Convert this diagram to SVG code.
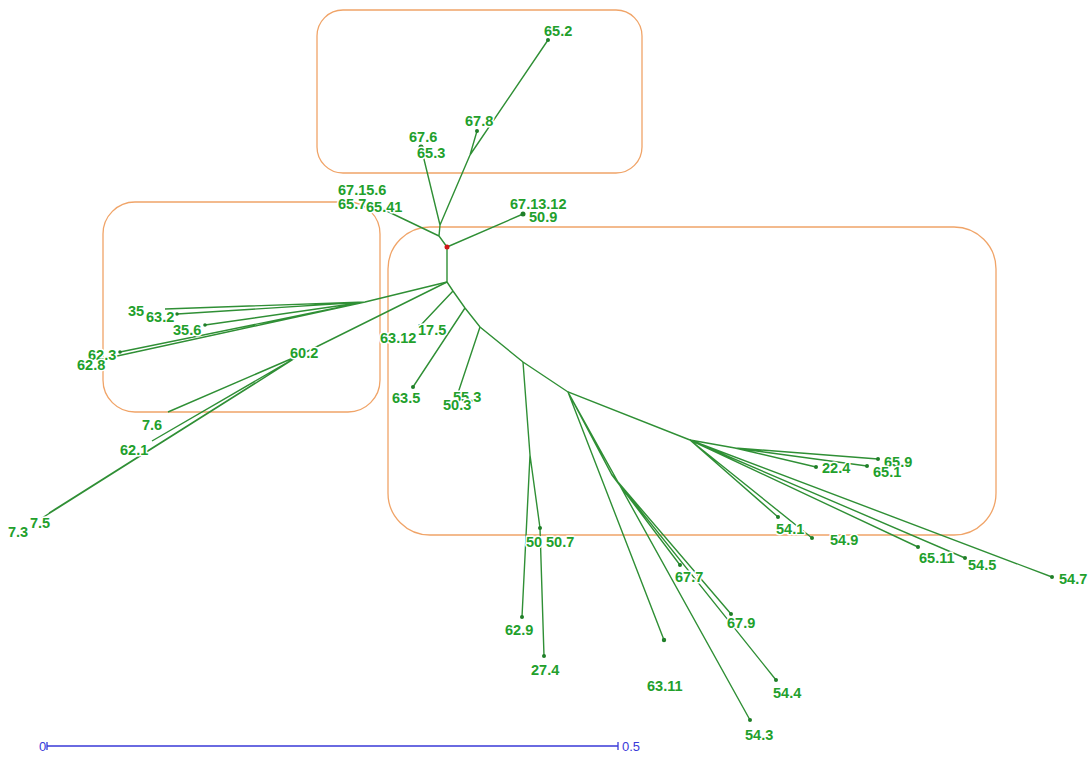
<svg xmlns="http://www.w3.org/2000/svg" width="1090" height="757" viewBox="0 0 1090 757">
<style>
.box{fill:none;stroke:#f0a468;stroke-width:1.3}
.e{stroke:#2f8f35;stroke-width:1.4;fill:none}
.d{fill:#1f7f28}
.t{font-family:"Liberation Sans",Arial,sans-serif;font-size:14.5px;font-weight:bold;fill:#22a02c;stroke:#fff;stroke-width:3;paint-order:stroke;stroke-linejoin:round}
.s{font-family:"Liberation Sans",Arial,sans-serif;font-size:13px;fill:#3a3ad8}
</style>
<g id="boxes">
<rect class="box" x="317" y="10" width="325" height="163" rx="26"/>
<rect class="box" x="103" y="202" width="277" height="210" rx="32"/>
<rect class="box" x="388" y="227" width="608" height="308" rx="42"/>
</g>
<g id="connectors">
<path class="e" d="M447,247 L439,236 L440,225 M439,236 L370,203 M440,225 L421,147 M440,225 L470,155 L477,131 M470,155 L548,40 M447,247 L523,214 M447,247 L447,282"/>
<path class="e" d="M447,282 L365,302 M365,302 L177,314 M365,302 L165,309 M365,302 L205,325 M365,302 L120,352 M365,302 L108,358"/>
<path class="e" d="M447,282 L300,355 L168,412 M300,355 L152,441 M300,355 L49,513 M300,355 L42,518"/>
<path class="e" d="M447,282 L453,291 L465,308 L480,327 L523,362 L568,392 L690,440"/>
<path class="e" d="M453,291 L420,326 M465,308 L413,387 M480,327 L458,393"/>
<path class="e" d="M523,362 L530,455 L522,617 M530,455 L540,528 L544,656"/>
<path class="e" d="M568,392 L664,640 M568,392 L750,720 M568,392 L612,475 L680,565 M612,475 L731,614 M612,475 L776,680"/>
<path class="e" d="M690,440 L735,448 L878,459 M735,448 L816,467 M735,448 L867,466 M690,440 L778,517 M690,440 L812,538 M690,440 L918,547 M690,440 L965,558 M690,440 L1052,577"/>
</g>
<g id="dots">
<circle cx="447" cy="247" r="2.5" fill="#d01818"/>
<circle class="d" cx="370" cy="203" r="2"/>
<circle class="d" cx="421" cy="147" r="2.5"/>
<circle class="d" cx="477" cy="131" r="2"/>
<circle class="d" cx="548" cy="40" r="2"/>
<circle class="d" cx="523" cy="214" r="2.5"/>
<circle class="d" cx="177" cy="314" r="1.8"/>
<circle class="d" cx="205" cy="325" r="1.8"/>
<circle class="d" cx="120" cy="352" r="1.8"/>
<circle class="d" cx="108" cy="358" r="1.8"/>
<circle class="d" cx="420" cy="326" r="2"/>
<circle class="d" cx="413" cy="387" r="2"/>
<circle class="d" cx="458" cy="393" r="2"/>
<circle class="d" cx="522" cy="617" r="2"/>
<circle class="d" cx="540" cy="528" r="2"/>
<circle class="d" cx="544" cy="656" r="2"/>
<circle class="d" cx="664" cy="640" r="2.2"/>
<circle class="d" cx="750" cy="720" r="2"/>
<circle class="d" cx="680" cy="565" r="2"/>
<circle class="d" cx="731" cy="614" r="2"/>
<circle class="d" cx="776" cy="680" r="2"/>
<circle class="d" cx="878" cy="459" r="2"/>
<circle class="d" cx="816" cy="467" r="2"/>
<circle class="d" cx="867" cy="466" r="2"/>
<circle class="d" cx="778" cy="517" r="2"/>
<circle class="d" cx="812" cy="538" r="2"/>
<circle class="d" cx="918" cy="547" r="2"/>
<circle class="d" cx="965" cy="558" r="2"/>
<circle class="d" cx="1052" cy="577" r="2"/>
</g>
<g id="labels">
<text class="t" x="544" y="36">65.2</text>
<text class="t" x="465" y="126">67.8</text>
<text class="t" x="409" y="142">67.6</text>
<text class="t" x="417" y="158">65.3</text>
<text class="t" x="338" y="195">67.15.6</text>
<text class="t" x="338" y="209">65.7</text>
<text class="t" x="366" y="212">65.41</text>
<text class="t" x="510" y="209">67.13.12</text>
<text class="t" x="529" y="222">50.9</text>
<text class="t" x="128" y="316">35</text>
<text class="t" x="146" y="322">63.2</text>
<text class="t" x="173" y="335">35.6</text>
<text class="t" x="88" y="360">62.3</text>
<text class="t" x="77" y="370">62.8</text>
<text class="t" x="290" y="358">60.2</text>
<text class="t" x="142" y="430">7.6</text>
<text class="t" x="120" y="455">62.1</text>
<text class="t" x="30" y="528">7.5</text>
<text class="t" x="8" y="537">7.3</text>
<text class="t" x="418" y="335">17.5</text>
<text class="t" x="380" y="343">63.12</text>
<text class="t" x="392" y="403">63.5</text>
<text class="t" x="453" y="402">55.3</text>
<text class="t" x="443" y="410">50.3</text>
<text class="t" x="526" y="547">50</text>
<text class="t" x="546" y="547">50.7</text>
<text class="t" x="505" y="635">62.9</text>
<text class="t" x="531" y="675">27.4</text>
<text class="t" x="647" y="691">63.11</text>
<text class="t" x="675" y="582">67.7</text>
<text class="t" x="727" y="628">67.9</text>
<text class="t" x="773" y="698">54.4</text>
<text class="t" x="745" y="740">54.3</text>
<text class="t" x="884" y="467">65.9</text>
<text class="t" x="822" y="473">22.4</text>
<text class="t" x="873" y="477">65.1</text>
<text class="t" x="776" y="534">54.1</text>
<text class="t" x="830" y="545">54.9</text>
<text class="t" x="919" y="563">65.11</text>
<text class="t" x="968" y="570">54.5</text>
<text class="t" x="1059" y="584">54.7</text>
</g>
<g id="scale">
<path d="M47,746 H618 M47,742 V750 M618,742 V750" stroke="#3a3ad8" stroke-width="1.3" fill="none"/>
<text class="s" x="39" y="751">0</text>
<text class="s" x="622" y="751">0.5</text>
</g>
</svg>
